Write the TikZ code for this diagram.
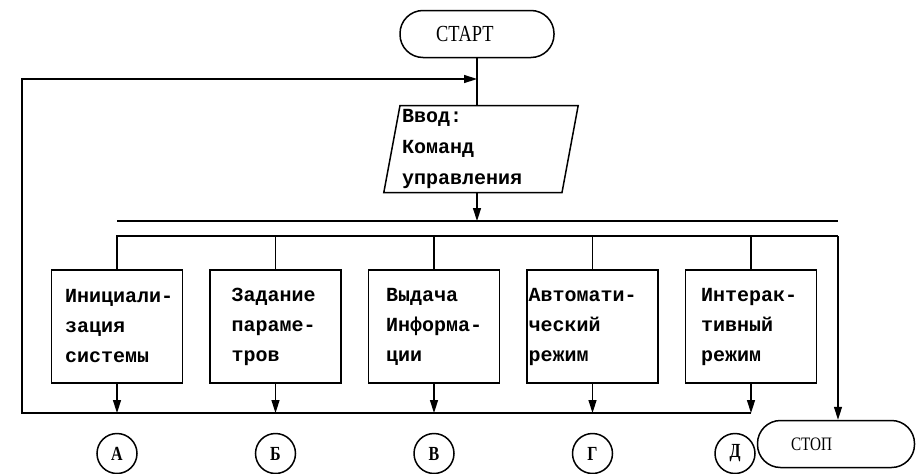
\documentclass[tikz,border=0pt]{standalone}
\usepackage{fontspec}
\setmainfont{Liberation Serif}
\setmonofont{Liberation Mono}
\newfontfamily\termfont[FakeStretch=0.8]{Liberation Serif}
\usetikzlibrary{shapes.geometric,arrows.meta,positioning,calc}

\begin{document}
\begin{tikzpicture}[
    x=1pt, y=-1pt,
    every path/.append style={line width=1.5pt},
    node distance=26pt,
    term/.style={draw, rectangle, rounded corners=23pt, minimum width=154pt, minimum height=47pt, text width=82pt, align=left},
    io/.style={draw, trapezium, trapezium left angle=79, trapezium right angle=101, trapezium stretches=true, minimum width=192pt, minimum height=87pt, inner sep=2pt, text width=158pt, align=left, font=\ttfamily\bfseries\fontsize{20}{31}\selectfont},
    block/.style={draw, rectangle, minimum width=131pt, minimum height=113pt, inner sep=1pt, text width=104pt, align=left, font=\ttfamily\bfseries\fontsize{20}{30}\selectfont},
    conn/.style={draw, circle, minimum size=40pt, inner sep=0pt, font=\termfont\bfseries\fontsize{20}{20}\selectfont},
    line/.style={draw, -{Triangle[length=13pt, width=8pt]}}
]
    \useasboundingbox (0,0) rectangle (916,474);

    \node [term, font=\termfont\fontsize{23}{24}\selectfont] (start) at (477,34) {СТАРТ};
    \node [io] (input) at (481,149) {Ввод:\\Команд\\управления};

    \node [block] (init) at (117,326.5) {Инициали-\\зация\\системы};
    \node [block, right=of init, text width=88pt] (params) {Задание\\параме-\\тров};
    \node [block, right=of params, text width=96pt] (output) {Выдача\\Информа-\\ции};
    \node [block, right=of output, text width=128pt] (auto) {Автомати-\\ческий\\режим};
    \node [block, right=of auto, text width=100pt] (interact) {Интерак-\\тивный\\режим};

    \node [conn, below=49pt of init] (connA) {А};
    \node [conn, below=49pt of params] (connB) {Б};
    \node [conn, below=49pt of output] (connV) {В};
    \node [conn, below=49pt of auto] (connG) {Г};
    \node [conn, below=49pt of interact, xshift=-16pt] (connD) {Д};
    \node [term, minimum width=157pt, text width=90pt, font=\termfont\fontsize{19}{20}\selectfont] (stop) at (836,444) {СТОП};

    \coordinate (merge) at (477,79);
    \coordinate (loopleft) at (22,413);
    \coordinate (busL) at (117,221);
    \coordinate (busR) at (838,221);
    \coordinate (fanR) at (838,236);

    \draw (start.south) -- (start.south |- input.north);
    \path [line] (start.south |- input.south) -- (start.south |- busL);
    \draw (busL) -- (busR);
    \draw (init.north) |- (fanR);
    \foreach \blk in {params,output,auto,interact}
        \draw (\blk.north) -- (\blk.north |- fanR);
    \path [line] (fanR) -- (fanR |- stop.north);
    \foreach \blk in {init,params,output,auto,interact}
        \path [line] (\blk.south) -- (\blk.south |- loopleft);
    \path [line] (interact.south |- loopleft) -- (loopleft) |- (merge);
\end{tikzpicture}
\end{document}
